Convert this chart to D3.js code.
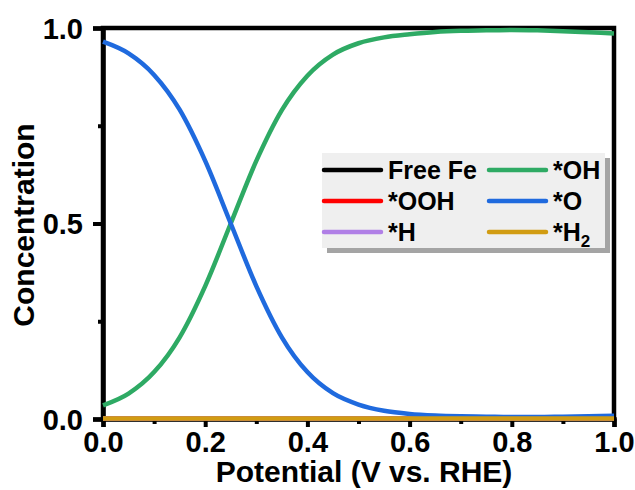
<!DOCTYPE html>
<html>
<head>
<meta charset="utf-8">
<script src="https://cdn.jsdelivr.net/npm/d3@7"></script>
<style>
  body { margin: 0; background: #fff; }
  text { font-family: "Liberation Sans", Arial, sans-serif; font-weight: bold; fill: #000; }
</style>
</head>
<body>
<svg id="chart" width="635" height="490"></svg>
<script>
// potential steps (V vs. RHE)
var potential = [0, 0.05, 0.1, 0.15, 0.2, 0.25, 0.3, 0.35, 0.4, 0.45, 0.5, 0.55, 0.6, 0.65, 0.7, 0.75, 0.8, 0.85, 0.9, 0.95, 1.0];

// coverages
var freeFe = [0.001, 0.001, 0.001, 0.001, 0.001, 0.001, 0.001, 0.001, 0.001, 0.001, 0.001, 0.001, 0.001, 0.001, 0.001, 0.001, 0.001, 0.001, 0.001, 0.001, 0.001];
var ooh    = [0.001, 0.001, 0.001, 0.001, 0.001, 0.001, 0.001, 0.001, 0.001, 0.001, 0.001, 0.001, 0.001, 0.001, 0.001, 0.001, 0.001, 0.001, 0.001, 0.001, 0.001];
var hAds   = [0.001, 0.001, 0.001, 0.001, 0.001, 0.001, 0.001, 0.001, 0.001, 0.001, 0.001, 0.001, 0.001, 0.001, 0.001, 0.001, 0.001, 0.001, 0.001, 0.001, 0.001];
var oh     = [0.035, 0.065, 0.12, 0.209, 0.34, 0.5, 0.66, 0.79, 0.878, 0.932, 0.961, 0.976, 0.984, 0.99, 0.993, 0.994, 0.995, 0.994, 0.992, 0.989, 0.986];
var oAds   = [0.965, 0.935, 0.88, 0.791, 0.66, 0.5, 0.34, 0.209, 0.12, 0.066, 0.037, 0.021, 0.013, 0.009, 0.007, 0.006, 0.005, 0.005, 0.006, 0.007, 0.008];
var h2     = [0.001, 0.001, 0.001, 0.001, 0.001, 0.001, 0.001, 0.001, 0.001, 0.001, 0.001, 0.001, 0.001, 0.001, 0.001, 0.001, 0.001, 0.001, 0.001, 0.001, 0.001];

var xTicks = [0, 0.2, 0.4, 0.6, 0.8, 1.0];
var xMinor = [0.1, 0.3, 0.5, 0.7, 0.9];
var yTicks = [0, 0.5, 1.0];
var yMinor = [0.25, 0.75];

var series = [
  { name: "Free Fe", values: freeFe, color: "#000000" },
  { name: "*OOH",    values: ooh,    color: "#ff0000" },
  { name: "*H",      values: hAds,   color: "#b07fe6" },
  { name: "*OH",     values: oh,     color: "#2eaa64" },
  { name: "*O",      values: oAds,   color: "#1f6ade" },
  { name: "*H2",     values: h2,     color: "#d19c12" }
];

var svg = d3.select("#chart");
var plotL = 103, plotR = 614, plotT = 28, plotB = 419;

var x = d3.scaleLinear().domain([0, 1]).range([plotL, plotR]);
var y = d3.scaleLinear().domain([0, 1]).range([plotB, plotT]);

// frame
svg.append("rect")
   .attr("x", plotL).attr("y", plotT)
   .attr("width", plotR - plotL).attr("height", plotB - plotT)
   .attr("fill", "none").attr("stroke", "#000").attr("stroke-width", 4.5);

// axes
var xAxis = svg.append("g").attr("transform", "translate(0," + plotB + ")")
   .call(d3.axisBottom(x).tickValues(xTicks).tickSize(8).tickFormat(d3.format(".1f")));
svg.append("g").attr("transform", "translate(0," + plotB + ")")
   .call(d3.axisBottom(x).tickValues(xMinor).tickSize(5).tickFormat(""))
   .call(function(g) { g.select(".domain").remove(); });
var yAxis = svg.append("g").attr("transform", "translate(" + plotL + ",0)")
   .call(d3.axisLeft(y).tickValues(yTicks).tickSize(10).tickFormat(d3.format(".1f")));
svg.append("g").attr("transform", "translate(" + plotL + ",0)")
   .call(d3.axisLeft(y).tickValues(yMinor).tickSize(5).tickFormat(""))
   .call(function(g) { g.select(".domain").remove(); });

svg.selectAll(".tick line").attr("stroke", "#000").attr("stroke-width", 4);
svg.selectAll(".domain").attr("stroke", "#000").attr("stroke-width", 4.5);

xAxis.selectAll(".tick text")
     .attr("font-size", 29).attr("font-family", "Liberation Sans, Arial, sans-serif")
     .attr("font-weight", "bold").attr("fill", "#000")
     .attr("dy", null).attr("y", 33);
yAxis.selectAll(".tick text")
     .attr("font-size", 29).attr("font-family", "Liberation Sans, Arial, sans-serif")
     .attr("font-weight", "bold").attr("fill", "#000")
     .attr("x", -20).attr("dy", "0.36em");

// titles
svg.append("text")
   .attr("x", 364).attr("y", 482)
   .attr("text-anchor", "middle").attr("font-size", 30)
   .text("Potential (V vs. RHE)");
svg.append("text")
   .attr("transform", "translate(34,225) rotate(-90)")
   .attr("text-anchor", "middle").attr("font-size", 30)
   .text("Concentration");

// curves
var line = d3.line()
   .curve(d3.curveMonotoneX)
   .x(function(d, i) { return x(potential[i]); })
   .y(function(d) { return y(d); });

svg.selectAll(".curve")
   .data(series)
   .enter()
   .append("path")
   .attr("class", "curve")
   .attr("fill", "none")
   .attr("stroke", function(d) { return d.color; })
   .attr("stroke-width", 4.5)
   .attr("d", function(d) { return line(d.values); });

// legend
var lg = svg.append("g").attr("transform", "translate(322,153)");
lg.append("rect").attr("x", 5).attr("y", 5).attr("width", 283).attr("height", 95).attr("fill", "#a4a4a4");
lg.append("rect").attr("x", 0).attr("y", 0).attr("width", 283).attr("height", 95).attr("fill", "#efefef");

var rows = lg.selectAll(".item")
   .data(series)
   .enter()
   .append("g")
   .attr("class", "item")
   .attr("transform", function(d, i) {
      var col = [0, 0, 0, 1, 1, 1][i], row = [0, 1, 2, 0, 1, 2][i];
      return "translate(" + (col * 165) + "," + (17 + row * 31) + ")";
   });

rows.append("line")
    .attr("x1", 2).attr("x2", 59).attr("y1", 0).attr("y2", 0)
    .attr("stroke", function(d) { return d.color; })
    .attr("stroke-width", 4.5).attr("stroke-linecap", "round");

rows.append("text")
    .attr("x", 66).attr("y", 9).attr("font-size", 25)
    .each(function(d) {
       var t = d3.select(this);
       if (d.name === "*H2") {
         t.append("tspan").text("*H");
         t.append("tspan").attr("font-size", 17).attr("dy", 6).text("2");
       } else {
         t.text(d.name);
       }
    });
</script>
</body>
</html>
